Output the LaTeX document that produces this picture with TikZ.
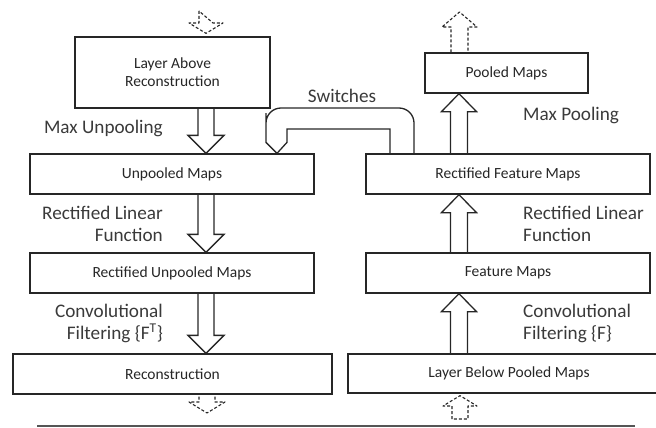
\documentclass[tikz,border=0pt]{standalone}
\usepackage{fontspec}
\setmainfont{Carlito}
\usetikzlibrary{calc}
\definecolor{ink}{HTML}{262626}
\definecolor{txt}{HTML}{3A3A3A}
\definecolor{rule}{HTML}{555555}
\tikzset{
  box/.style={draw=ink, line width=1.3pt, inner sep=0pt, align=center,
    text=ink, font=\fontsize{15.5}{18}\selectfont},
  lbl/.style={inner sep=0pt, text=txt, font=\fontsize{19.2}{22.5}\selectfont},
  blk/.style={draw=ink, line width=1.3pt, line join=miter},
  ghost/.style={draw=ink, line width=1.1pt, dash pattern=on 3pt off 2pt, line join=round},
}
% block arrow pointing down from node #1 to node #2 along x = #3
\newcommand\blkdown[3]{%
  \draw[blk] let \p1=(#1.south), \p2=(#2.north) in
    (#3-8,\y1) -- (#3-8,\y2+18pt) -- (#3-18,\y2+18pt) -- (#3,\y2)
    -- (#3+18,\y2+18pt) -- (#3+8,\y2+18pt) -- (#3+8,\y1);}
% block arrow pointing up from node #1 to node #2 along x = #3
\newcommand\blkup[3]{%
  \draw[blk] let \p1=(#1.north), \p2=(#2.south) in
    (#3-8.5,\y1) -- (#3-8.5,\y2-18pt) -- (#3-17.5,\y2-18pt) -- (#3,\y2)
    -- (#3+17.5,\y2-18pt) -- (#3+8.5,\y2-18pt) -- (#3+8.5,\y1);}
\begin{document}
\begin{tikzpicture}[x=1pt, y=-1pt]
\useasboundingbox (0,0) rectangle (656,428);
\clip (0,0) rectangle (656,428);

% deconvolution side
\node[box, minimum width=195pt, minimum height=71pt] (above) at (172.5,72.5) {Layer Above\\Reconstruction};
\node[box, minimum width=284pt, minimum height=40pt] (unpooled) at (172,174) {Unpooled Maps};
\node[box, minimum width=284pt, minimum height=40pt] (runpooled) at (172,273) {Rectified Unpooled Maps};
\node[box, minimum width=319pt, minimum height=40pt] (recon) at (172.5,374) {Reconstruction};

% convolution side
\node[box, minimum width=163pt, minimum height=40pt] (pooled) at (506.5,73) {Pooled Maps};
\node[box, minimum width=284pt, minimum height=40pt] (rfeat) at (508,174) {Rectified Feature Maps};
\node[box, minimum width=284pt, minimum height=40pt] (feat) at (508,273) {Feature Maps};
\node[box, minimum width=322pt, minimum height=39pt] (below) at (509,373.5) {Layer Below Pooled Maps};

% operation labels
\node[lbl, anchor=east] (lmu) at (163,128) {Max Unpooling};
\node[lbl, anchor=east, align=right] (lrl) at (163,224) {Rectified Linear\\Function};
\node[lbl, anchor=east, align=right] (lcf) at (163,323.5) {Convolutional\\Filtering \{F\textsuperscript{T}\}};
\node[lbl, anchor=west] (rmp) at (523,115) {Max Pooling};
\node[lbl, anchor=west, align=left] (rrl) at (523,224) {Rectified Linear\\Function};
\node[lbl, anchor=west, align=left] (rcf) at (523,323.5) {Convolutional\\Filtering \{F\}};
\node[lbl] (sw) at (342,96) {Switches};

% flow arrows
\blkdown{above}{unpooled}{206}
\blkdown{unpooled}{runpooled}{206}
\blkdown{runpooled}{recon}{206}
\blkup{rfeat}{pooled}{459}
\blkup{feat}{rfeat}{459}
\blkup{below}{feat}{459}

% switches path from pooling to unpooling
\draw[blk] let \p1=(rfeat.north), \p2=(unpooled.north) in
  (414,\y1) [rounded corners=15pt] -- (414,108) -- (266,108) -- (266,128)
  [sharp corners] -- (266,\y2+11pt) -- (277,\y2) -- (287,\y2+11pt)
  -- (287,129) -- (390,129) -- (390,\y1);

% dashed arrows to neighbouring layers
\draw[ghost] let \p1=(above.north) in
  (199,11) -- (199,23) -- (189,23) -- (206,\y1+3pt) -- (223,23) -- (213,23) -- cycle;
\draw[ghost] let \p1=(pooled.north) in
  (451,\y1) -- (451,27) -- (442,27) -- (459.5,12) -- (477,27) -- (468,27) -- (468,\y1);
\draw[ghost] let \p1=(recon.south) in
  (199,\y1-2pt) -- (199,402) -- (189,402) -- (207,413) -- (225,402) -- (215,402) -- (215,\y1-2pt);
\draw[ghost] let \p1=(below.south) in
  (452,419) -- (452,406) -- (443,406) -- (460,\y1-2pt) -- (477,406) -- (468,406) -- (468,419) -- cycle;

% base rule
\coordinate (ruleL) at (37,426);
\coordinate (ruleR) at (635,426);
\draw[rule, line width=2pt] (ruleL) -- (ruleR);
\end{tikzpicture}
\end{document}
